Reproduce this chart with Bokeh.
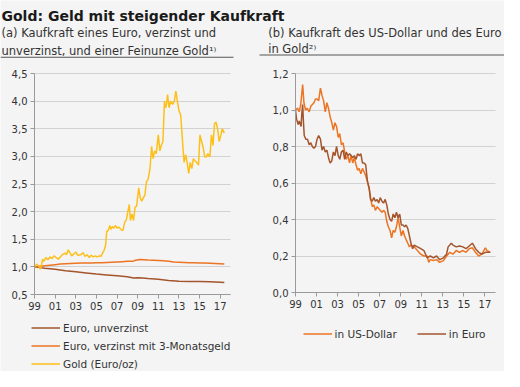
from bokeh.plotting import figure
from bokeh.models import (Legend, LegendItem, FixedTicker, Range1d, LinearAxis, Grid,
                          Label, BoxAnnotation)
from bokeh.embed import file_html
from bokeh.resources import INLINE

# ---------------- data ----------------
year_ticks = [1999, 2001, 2003, 2005, 2007, 2009, 2011, 2013, 2015, 2017]
year_labels = ["99", "01", "03", "05", "07", "09", "11", "13", "15", "17"]

left_yticks = [0.5, 1.0, 1.5, 2.0, 2.5, 3.0, 3.5, 4.0, 4.5]
left_ylabels = ["0,5", "1,0", "1,5", "2,0", "2,5", "3,0", "3,5", "4,0", "4,5"]
right_yticks = [0.0, 0.2, 0.4, 0.6, 0.8, 1.0, 1.2]
right_ylabels = ["0,0", "0,2", "0,4", "0,6", "0,8", "1,0", "1,2"]

gold_t = [1999.00, 1999.20, 1999.40, 1999.55, 1999.65, 1999.78, 1999.90, 2000.10, 2000.30, 2000.50,
          2000.70, 2000.90, 2001.10, 2001.30, 2001.50, 2001.70, 2001.96, 2002.10, 2002.27, 2002.45,
          2002.60, 2002.80, 2003.00, 2003.20, 2003.50, 2003.70, 2003.90, 2004.10, 2004.30, 2004.50,
          2004.70, 2004.90, 2005.07, 2005.30, 2005.45, 2005.60, 2005.75, 2005.90, 2006.00, 2006.15,
          2006.30, 2006.40, 2006.55, 2006.70, 2006.85, 2007.00, 2007.20, 2007.40, 2007.57, 2007.75,
          2007.90, 2008.00, 2008.19, 2008.30, 2008.45, 2008.60, 2008.75, 2008.90, 2009.10, 2009.25,
          2009.40, 2009.55, 2009.70, 2009.85, 2010.00, 2010.20, 2010.35, 2010.50, 2010.65, 2010.80,
          2011.00, 2011.15, 2011.30, 2011.45, 2011.60, 2011.70, 2011.80, 2011.90, 2012.05, 2012.20,
          2012.40, 2012.55, 2012.70, 2012.85, 2013.00, 2013.18, 2013.35, 2013.50, 2013.65, 2013.80,
          2013.95, 2014.10, 2014.25, 2014.40, 2014.55, 2014.73, 2014.90, 2015.04, 2015.20, 2015.35,
          2015.50, 2015.65, 2015.80, 2016.00, 2016.15, 2016.30, 2016.45, 2016.60, 2016.75, 2016.90,
          2017.05, 2017.20, 2017.40]
gold_v = [1.00, 1.05, 1.02, 0.96, 1.00, 1.14, 1.10, 1.17, 1.13, 1.18,
          1.15, 1.20, 1.17, 1.14, 1.18, 1.22, 1.25, 1.22, 1.31, 1.25,
          1.20, 1.23, 1.27, 1.21, 1.22, 1.26, 1.19, 1.22, 1.17, 1.21,
          1.18, 1.20, 1.18, 1.20, 1.19, 1.25, 1.30, 1.40, 1.64, 1.66,
          1.75, 1.68, 1.73, 1.70, 1.75, 1.70, 1.72, 1.67, 1.66, 1.81,
          1.85, 1.95, 2.13, 1.84, 1.96, 1.84, 2.08, 2.10, 2.43, 2.25,
          2.19, 2.25, 2.30, 2.54, 2.58, 2.78, 3.18, 2.96, 3.10, 3.05,
          3.39, 3.10, 3.20, 3.27, 4.00, 3.88, 3.94, 4.12, 3.88, 4.00,
          3.94, 4.00, 4.18, 4.00, 3.83, 3.74, 3.27, 2.89, 3.03, 2.89,
          2.69, 2.89, 2.78, 2.96, 2.92, 2.89, 2.84, 3.39, 3.27, 3.16,
          2.99, 2.99, 3.05, 2.99, 3.39, 3.20, 3.59, 3.62, 3.50, 3.27,
          3.37, 3.50, 3.42]

eur_int_t = [1999.0, 1999.5, 2000.0, 2000.5, 2001.0, 2001.5, 2002.0, 2002.5, 2003.0, 2003.5,
             2004.0, 2004.5, 2005.0, 2005.5, 2006.0, 2006.5, 2007.0, 2007.5, 2008.0, 2008.5,
             2008.8, 2009.2, 2009.6, 2010.0, 2010.5, 2011.0, 2011.5, 2012.0, 2012.5, 2013.0,
             2013.5, 2014.0, 2014.5, 2015.0, 2015.5, 2016.0, 2016.5, 2017.0, 2017.4]
eur_int_v = [1.00, 1.01, 1.02, 1.03, 1.04, 1.05, 1.055, 1.06, 1.065, 1.07,
             1.07, 1.07, 1.075, 1.075, 1.08, 1.085, 1.09, 1.095, 1.10, 1.10,
             1.12, 1.135, 1.13, 1.125, 1.12, 1.115, 1.11, 1.10, 1.09, 1.085,
             1.08, 1.075, 1.075, 1.07, 1.07, 1.065, 1.06, 1.055, 1.05]

eur_raw_t = [1999.0, 2000.0, 2001.0, 2002.0, 2003.0, 2004.0, 2005.0, 2006.0, 2007.0, 2008.0,
             2008.6, 2009.0, 2009.5, 2010.0, 2011.0, 2012.0, 2013.0, 2014.0, 2015.0, 2016.0,
             2017.0, 2017.4]
eur_raw_v = [1.00, 0.975, 0.955, 0.93, 0.91, 0.89, 0.87, 0.855, 0.84, 0.82,
             0.80, 0.805, 0.80, 0.79, 0.775, 0.755, 0.74, 0.735, 0.735, 0.73,
             0.72, 0.715]

usd_t = [1999.00, 1999.20, 1999.35, 1999.50, 1999.68, 1999.80, 1999.95, 2000.10, 2000.30, 2000.45,
         2000.75, 2000.90, 2001.05, 2001.20, 2001.37, 2001.52, 2001.67, 2001.83, 2001.98, 2002.13,
         2002.30, 2002.45, 2002.60, 2002.75, 2002.90, 2003.06, 2003.20, 2003.36, 2003.52, 2003.67,
         2003.82, 2003.98, 2004.13, 2004.28, 2004.44, 2004.59, 2004.75, 2004.90, 2005.05, 2005.21,
         2005.36, 2005.52, 2005.67, 2005.83, 2006.00, 2006.13, 2006.29, 2006.44, 2006.59, 2006.75,
         2006.90, 2007.05, 2007.21, 2007.36, 2007.52, 2007.67, 2007.82, 2007.98, 2008.13, 2008.28,
         2008.44, 2008.59, 2008.74, 2008.90, 2009.05, 2009.21, 2009.36, 2009.51, 2009.67, 2009.82,
         2009.97, 2010.28, 2010.58, 2010.89, 2011.20, 2011.50, 2011.66, 2011.80, 2012.10, 2012.40,
         2012.70, 2013.05, 2013.35, 2013.66, 2013.96, 2014.27, 2014.58, 2014.90, 2015.20, 2015.50,
         2015.80, 2016.10, 2016.40, 2016.70, 2017.04, 2017.20, 2017.50]
usd_v = [1.00, 1.01, 0.99, 1.03, 1.14, 1.04, 1.00, 1.01, 0.99, 1.02,
         1.04, 1.06, 1.06, 1.05, 1.12, 1.08, 1.05, 0.99, 1.04, 1.01,
         0.96, 0.93, 0.89, 0.93, 0.91, 0.85, 0.87, 0.81, 0.82, 0.77,
         0.73, 0.75, 0.71, 0.75, 0.71, 0.74, 0.70, 0.67, 0.68, 0.65,
         0.68, 0.66, 0.64, 0.61, 0.57, 0.52, 0.47, 0.48, 0.45, 0.47,
         0.46, 0.45, 0.44, 0.45, 0.44, 0.39, 0.36, 0.34, 0.30, 0.34,
         0.33, 0.36, 0.41, 0.36, 0.31, 0.34, 0.31, 0.29, 0.27, 0.25,
         0.26, 0.25, 0.23, 0.21, 0.20, 0.20, 0.165, 0.18, 0.175, 0.18,
         0.165, 0.175, 0.20, 0.22, 0.21, 0.23, 0.22, 0.23, 0.22, 0.24,
         0.245, 0.22, 0.20, 0.21, 0.245, 0.23, 0.22]

eur_t = [1999.00, 1999.10, 1999.25, 1999.35, 1999.53, 1999.60, 1999.68, 1999.75, 1999.83, 1999.98,
         2000.14, 2000.30, 2000.45, 2000.60, 2000.75, 2000.90, 2001.05, 2001.20, 2001.37, 2001.52,
         2001.67, 2001.83, 2001.98, 2002.13, 2002.29, 2002.44, 2002.60, 2002.75, 2002.90, 2003.06,
         2003.21, 2003.36, 2003.52, 2003.67, 2003.82, 2003.98, 2004.13, 2004.29, 2004.44, 2004.59,
         2004.75, 2004.90, 2005.05, 2005.21, 2005.36, 2005.52, 2005.67, 2005.83, 2006.00, 2006.13,
         2006.29, 2006.44, 2006.59, 2006.75, 2006.90, 2007.05, 2007.21, 2007.36, 2007.52, 2007.67,
         2007.82, 2007.98, 2008.13, 2008.28, 2008.44, 2008.59, 2008.74, 2008.90, 2009.05, 2009.21,
         2009.36, 2009.51, 2009.67, 2009.82, 2009.97, 2010.13, 2010.28, 2010.58, 2010.90, 2011.20,
         2011.50, 2011.80, 2012.10, 2012.40, 2012.70, 2013.05, 2013.35, 2013.50, 2013.80, 2013.96,
         2014.27, 2014.58, 2014.90, 2015.20, 2015.50, 2015.80, 2016.10, 2016.40, 2016.70, 2017.04,
         2017.30, 2017.50]
eur_v = [1.00, 0.95, 0.92, 0.94, 0.91, 0.98, 1.03, 0.94, 0.86, 0.84,
         0.84, 0.81, 0.82, 0.80, 0.79, 0.80, 0.84, 0.86, 0.84, 0.78,
         0.80, 0.77, 0.78, 0.74, 0.71, 0.72, 0.77, 0.75, 0.80, 0.75,
         0.73, 0.77, 0.78, 0.73, 0.77, 0.75, 0.76, 0.75, 0.74, 0.75,
         0.73, 0.76, 0.75, 0.76, 0.71, 0.71, 0.70, 0.61, 0.57, 0.51,
         0.50, 0.52, 0.50, 0.51, 0.49, 0.52, 0.50, 0.49, 0.51, 0.48,
         0.43, 0.40, 0.39, 0.43, 0.41, 0.44, 0.41, 0.43, 0.37, 0.37,
         0.36, 0.37, 0.35, 0.31, 0.27, 0.24, 0.26, 0.25, 0.24, 0.23,
         0.19, 0.20, 0.19, 0.20, 0.18, 0.19, 0.21, 0.25, 0.27, 0.26,
         0.25, 0.255, 0.25, 0.24, 0.255, 0.27, 0.24, 0.22, 0.21, 0.22,
         0.22, 0.22]

# ---------------- style / layout (canvas pixels) ----------------
BG = "#f4f4f4"
FONT = "DejaVu Sans"
BROWN = "#a4552c"
ORANGE = "#ec7422"
GOLD = "#fdc01b"
GRID = "#d2d2d2"
AXIS = "#9a9a9a"
TXT = "#333333"
W, H = 504, 371     # the frame covers the whole canvas; panels are placed by the ranges

# left panel: years 1999..2018 -> px 34..230, values 0.5..4.5 -> px 294..73
def x_of(px):
    return 1999 + (px - 34) * 19.0 / 196.0

def y_of(py):
    return 0.5 + (294 - py) * 4.0 / 221.0

# right panel: years 1999..2018 -> px 295..495, values 0..1.2 -> px 292..73
def xr_of(px):
    return 1999 + (px - 295) * 19.0 / 200.0

def yr_of(py):
    return (292 - py) * 1.2 / 219.0


p = figure(width=W, height=H, output_backend="svg", toolbar_location=None, title=None,
           x_range=Range1d(x_of(0), x_of(W)), y_range=Range1d(y_of(H), y_of(0)),
           background_fill_color=BG, border_fill_color=BG,
           min_border_left=0, min_border_right=0, min_border_top=0, min_border_bottom=0)
p.extra_x_ranges = {"xr": Range1d(xr_of(0), xr_of(W))}
p.extra_y_ranges = {"yr": Range1d(yr_of(H), yr_of(0))}
p.outline_line_color = None
p.xgrid.visible = False


def style_axis(ax):
    ax.axis_line_color = AXIS
    ax.major_tick_line_color = AXIS
    ax.major_tick_out = 4
    ax.major_tick_in = 0
    ax.minor_tick_line_color = None
    ax.major_label_text_font = FONT
    ax.major_label_text_font_size = "10px"
    ax.major_label_text_color = TXT
    ax.major_label_standoff = 3


# left panel axes + grid
yl = p.yaxis[0]
yl.ticker = FixedTicker(ticks=left_yticks)
yl.major_label_overrides = dict(zip(left_yticks, left_ylabels))
yl.bounds = (left_yticks[0], left_yticks[-1])
yl.fixed_location = 1999
style_axis(yl)
xl = p.xaxis[0]
xl.ticker = FixedTicker(ticks=year_ticks)
xl.major_label_overrides = dict(zip(year_ticks, year_labels))
xl.bounds = (1999, 2018)
xl.fixed_location = 0.5
style_axis(xl)
p.ygrid.ticker = FixedTicker(ticks=left_yticks)
p.ygrid.grid_line_color = GRID
p.ygrid.cross_bounds = (1999, 2018)

# right panel axes + grid
yr_ax = LinearAxis(x_range_name="xr", y_range_name="yr", fixed_location=1999,
                   ticker=FixedTicker(ticks=right_yticks),
                   major_label_overrides=dict(zip(right_yticks, right_ylabels)),
                   bounds=(0.0, 1.2))
style_axis(yr_ax)
p.add_layout(yr_ax, "left")
xr_ax = LinearAxis(x_range_name="xr", y_range_name="yr", fixed_location=0.0,
                   ticker=FixedTicker(ticks=year_ticks),
                   major_label_overrides=dict(zip(year_ticks, year_labels)),
                   bounds=(1999, 2018))
style_axis(xr_ax)
p.add_layout(xr_ax, "below")
p.add_layout(Grid(dimension=1, x_range_name="xr", y_range_name="yr",
                  ticker=FixedTicker(ticks=right_yticks), grid_line_color=GRID,
                  cross_bounds=(1999, 2018)))

# series
r_raw = p.line(eur_raw_t, eur_raw_v, line_color=BROWN, line_width=1.5)
r_int = p.line(eur_int_t, eur_int_v, line_color=ORANGE, line_width=1.5)
r_gold = p.line(gold_t, gold_v, line_color=GOLD, line_width=1.5)
r_usd = p.line(usd_t, usd_v, line_color=ORANGE, line_width=1.5,
               x_range_name="xr", y_range_name="yr")
r_eur = p.line(eur_t, eur_v, line_color=BROWN, line_width=1.5,
               x_range_name="xr", y_range_name="yr")

# titles (positions in canvas px converted to left-panel data units)
def text(px, py, s, size, bold=False, color=TXT):
    p.add_layout(Label(x=x_of(px), y=y_of(py), text=s, text_font=FONT,
                       text_font_size=size, text_font_style="bold" if bold else "normal",
                       text_color=color, text_align="left", text_baseline="alphabetic"))

text(1, 15.5, "Gold: Geld mit steigender Kaufkraft", "14px", bold=True, color="#1a1a1a")
text(1, 32.3, "(a) Kaufkraft eines Euro, verzinst und", "11.5px")
text(1, 50.1, "unverzinst, und einer Feinunze Gold\u00b9\u207e", "11.5px")
text(267.7, 32.3, "(b) Kaufkraft des US-Dollar und des Euro", "11.5px")
text(267.7, 48.5, "in Gold\u00b2\u207e", "11.5px")

p.add_layout(BoxAnnotation(left=x_of(0), right=x_of(233), bottom=y_of(57.2), top=y_of(56.2),
                           fill_color="#555555", fill_alpha=1, line_color=None))
p.add_layout(BoxAnnotation(left=x_of(259), right=x_of(504), bottom=y_of(55.0), top=y_of(54.0),
                           fill_color="#555555", fill_alpha=1, line_color=None))

# legends (location = left / bottom offsets inside the canvas-wide frame)
common = dict(margin=0, padding=0, glyph_width=29, glyph_height=13, label_height=13,
              label_standoff=3, background_fill_alpha=0, border_line_color=None,
              label_text_font=FONT, label_text_font_size="10.5px", label_text_color=TXT)
leg_l = Legend(items=[LegendItem(label="Euro, unverzinst", renderers=[r_raw]),
                      LegendItem(label="Euro, verzinst mit 3-Monatsgeld", renderers=[r_int]),
                      LegendItem(label="Gold (Euro/oz)", renderers=[r_gold])],
               orientation="vertical", spacing=5, location=(31, H - 370.0), **common)
leg_r = Legend(items=[LegendItem(label="in US-Dollar", renderers=[r_usd]),
                      LegendItem(label="in Euro", renderers=[r_eur])],
               orientation="horizontal", spacing=20, location=(302.6, H - 340.2), **common)
p.add_layout(leg_l)
p.add_layout(leg_r)

open("out.html", "w").write(file_html(p, INLINE))
